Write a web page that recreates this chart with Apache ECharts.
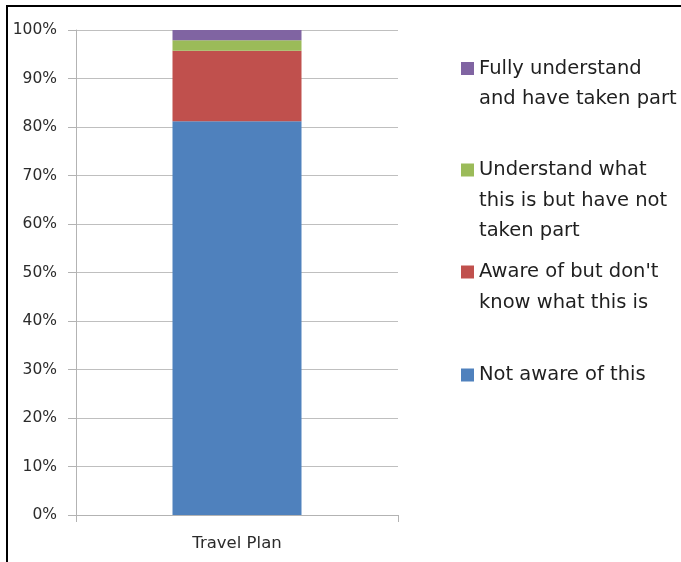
<!DOCTYPE html>
<html>
<head>
<meta charset="utf-8">
<script src="https://cdn.jsdelivr.net/npm/echarts@6/dist/echarts.min.js"></script>
<style>
  html, body { margin: 0; padding: 0; background: #fff; }
  #chart { width: 681px; height: 562px; }
</style>
</head>
<body>
<div id="chart"></div>
<script>
// Awareness of the Travel Plan, stacked to 100%
const categories = ['Travel Plan'];
const notAware = [81.2];
const awareNotKnow = [14.5];
const understandNotTaken = [2.2];
const fullyTakenPart = [2.1];
const yTicks = [0, 10, 20, 30, 40, 50, 60, 70, 80, 90, 100];

const names = [
  'Not aware of this',
  "Aware of but don't know what this is",
  'Understand what this is but have not taken part',
  'Fully understand and have taken part'
];
// how each legend entry wraps onto lines
const legendLines = {
  'Fully understand and have taken part': ['Fully understand', 'and have taken part'],
  'Understand what this is but have not taken part': ['Understand what', 'this is but have not', 'taken part'],
  "Aware of but don't know what this is": ["Aware of but don't", 'know what this is'],
  'Not aware of this': ['Not aware of this']
};
const colors = ['#4f81bd', '#c0504d', '#9bbb59', '#8064a2'];
const seriesValues = [notAware, awareNotKnow, understandNotTaken, fullyTakenPart];

const FONT = '"DejaVu Sans"';
const LH = 30.5;

// The legend text block is centred on its marker, so blank lines are
// put in front to keep the marker level with the first line of text.
function legendFor(name, top) {
  return {
    data: [name],
    orient: 'vertical',
    left: 461,
    top: top,
    padding: 0,
    itemWidth: 13,
    itemHeight: 13,
    icon: 'rect',
    formatter: function (nm) {
      const lines = legendLines[nm].slice();
      const extra = lines.length - 1;
      for (let k = 0; k < extra; k++) lines.unshift(' ');
      return lines.join('\n');
    },
    textStyle: {
      fontFamily: FONT,
      fontSize: 19.5,
      color: '#1f1f1f',
      lineHeight: LH
    },
    selectedMode: false
  };
}

const chart = echarts.init(document.getElementById('chart'), null, { renderer: 'canvas' });
chart.setOption({
  animation: false,
  backgroundColor: '#ffffff',
  grid: { left: 76, right: 283, top: 30, bottom: 47, containLabel: false },
  xAxis: {
    type: 'category',
    data: categories,
    axisLine: { lineStyle: { color: '#b3b3b3', width: 1 } },
    axisTick: { show: true, length: 7, lineStyle: { color: '#b3b3b3' } },
    axisLabel: { fontFamily: FONT, fontSize: 16.5, color: '#2b2b2b', margin: 20 }
  },
  yAxis: {
    type: 'value',
    min: yTicks[0],
    max: yTicks[yTicks.length - 1],
    interval: yTicks[1] - yTicks[0],
    axisLine: { show: true, lineStyle: { color: '#b3b3b3', width: 1 } },
    axisTick: { show: true, length: 8, lineStyle: { color: '#b3b3b3' } },
    axisLabel: { formatter: '{value}%', fontFamily: FONT, fontSize: 15.5, color: '#2b2b2b', margin: 19 },
    splitLine: { show: true, lineStyle: { color: '#bfbfbf', width: 1 } }
  },
  legend: [
    legendFor(names[3], 22.75),
    legendFor(names[2], 93.75),
    legendFor(names[1], 226.25),
    legendFor(names[0], 359.75)
  ],
  series: names.map(function (nm, i) {
    return {
      name: nm,
      type: 'bar',
      stack: 'total',
      barWidth: 129,
      data: seriesValues[i],
      itemStyle: { color: colors[i] }
    };
  }),
  graphic: [
    { type: 'line', shape: { x1: 6, y1: 6, x2: 681, y2: 6 }, style: { stroke: '#000', lineWidth: 2 } },
    { type: 'line', shape: { x1: 7, y1: 5, x2: 7, y2: 562 }, style: { stroke: '#000', lineWidth: 2 } }
  ]
});
</script>
</body>
</html>
